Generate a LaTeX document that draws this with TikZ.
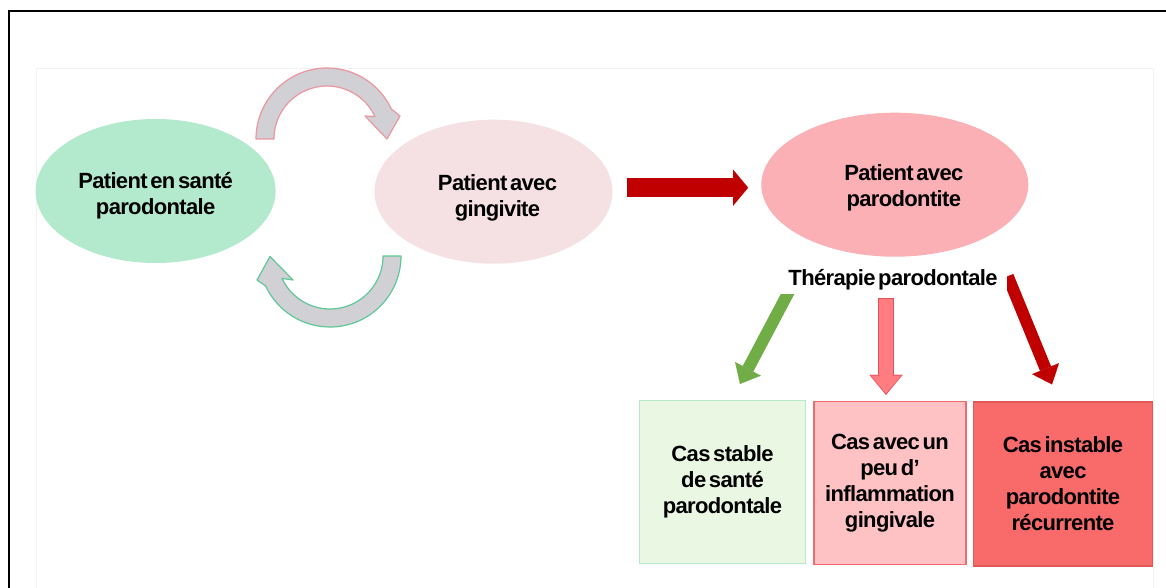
\documentclass[tikz,border=0pt]{standalone}
\usepackage{fontspec}
\setmainfont{Liberation Sans}[WordSpace=0.5,LetterSpace=-3]
\usetikzlibrary{shapes.geometric,arrows.meta,calc,backgrounds}

\definecolor{santevert}{HTML}{B3EACD}
\definecolor{gingrose}{HTML}{F5E0E4}
\definecolor{pararose}{HTML}{FAB0B5}
\definecolor{bouclegris}{HTML}{D1D0D5}
\definecolor{bouclerose}{HTML}{EB96A0}
\definecolor{bouclevert}{HTML}{5FC896}
\definecolor{rougefonce}{HTML}{C00000}
\definecolor{vertfleche}{HTML}{70AD47}
\definecolor{saumon}{HTML}{FF7C80}
\definecolor{saumonbord}{HTML}{E84D5A}
\definecolor{casvert}{HTML}{EAF7E2}
\definecolor{casvertbord}{HTML}{B9E9CC}
\definecolor{casrose}{HTML}{FEC2C4}
\definecolor{casrosebord}{HTML}{F06A6E}
\definecolor{casrouge}{HTML}{F96B6B}
\definecolor{casrougebord}{HTML}{E25858}

\tikzset{
  bulle/.style={ellipse, inner sep=0pt, minimum height=144bp},
  texte/.style={align=center, inner sep=0pt},
  cas/.style={rectangle, inner sep=0pt, line width=1.2bp, minimum height=163bp, align=center},
  grosse/.style={draw=rougefonce, line width=19bp, -{Triangle[width=36bp,length=15bp,line width=0.01bp]}},
  diag/.style={line width=12bp, -{Triangle[width=29bp,length=17bp,line width=0.01bp]}},
  boucle/.style={fill=bouclegris, line width=1.2bp, line join=round}
}

\begin{document}
\begin{tikzpicture}[x=1bp, y=-1bp, font=\fontsize{22bp}{26bp}\selectfont\bfseries]
\useasboundingbox (0,0) rectangle (1166,588);

\begin{scope}[on background layer]
\fill[white] (0,0) rectangle (1166,588);
\draw[black!5] (35.7,588) -- (35.7,68) -- (1152.7,68) -- (1152.7,588);
\draw[line width=2bp] (1166,11) -- (9,11) -- (9,588);
\end{scope}

\node[bulle, fill=santevert, minimum width=240bp] (sante) at (155.6,191) {};
\node[texte] (santetxt) at ($(sante)+(0,5)$) {Patient en santé\\parodontale};
\node[bulle, fill=gingrose, minimum width=238bp] (ging) at (493.5,191.7) {};
\node[texte] (gingtxt) at ($(ging)+(4,6)$) {Patient avec\\gingivite};
\node[bulle, fill=pararose, minimum width=267bp] (paro) at (894.8,184.7) {};
\node[texte] (parotxt) at ($(paro)+(9,3)$) {Patient avec\\parodontite};

\draw[boucle, draw=bouclerose] (256,139) arc[start angle=180, end angle=335, radius=71] -- (400,116) -- (387,139) -- (365,116) -- (375,116.6) arc[start angle=335, end angle=180, radius=53] -- cycle;
\draw[boucle, draw=bouclevert] (401,256) arc[start angle=0, end angle=155, radius=71] -- (257,280) -- (270,256.5) -- (293,280) -- (282,278.4) arc[start angle=155, end angle=0, radius=53] -- cycle;

\coordinate (r1) at ($(ging.east)+(14,-4)$);
\draw[grosse] (r1) -- ($(r1 -| paro.west)+(-13,0)$);

\node[fill=white, inner xsep=9bp, inner ysep=0pt, minimum height=29bp] (thera) at (893,279.5) {Thérapie parodontale};

\node[cas, fill=casvert, draw=casvertbord, minimum width=166bp] (cas1) at (722.5,482) {Cas stable\\de santé\\parodontale};
\node[cas, fill=casrose, draw=casrosebord, minimum width=152bp] (cas2) at (890,483) {Cas avec un\\peu d’\\inflammation\\gingivale};
\node[cas, fill=casrouge, draw=casrougebord, minimum width=179bp, minimum height=164bp] (cas3) at (1063,484) {Cas instable\\avec\\parodontite\\récurrente};

\begin{scope}[on background layer]
\draw[diag, vertfleche] ($(thera.south west)+(13,-9)$) -- ($(cas1.north)+(17.5,-16)$);
\draw[diag, rougefonce] ($(thera.south east)+(1,-18)$) -- ($(cas3.north)+(-11,-17)$);
\coordinate (m1) at ($(thera.south)+(-7,4)$);
\draw[saumonbord, line width=16bp, -{Triangle[width=33bp,length=20bp,line width=0.01bp]}] (m1) -- ($(m1 |- cas2.north)+(0,-6)$);
\draw[saumon, line width=14bp, shorten >=1.3bp, shorten <=1bp, -{Triangle[width=30bp,length=18bp,line width=0.01bp]}] (m1) -- ($(m1 |- cas2.north)+(0,-6)$);
\end{scope}
\end{tikzpicture}
\end{document}
